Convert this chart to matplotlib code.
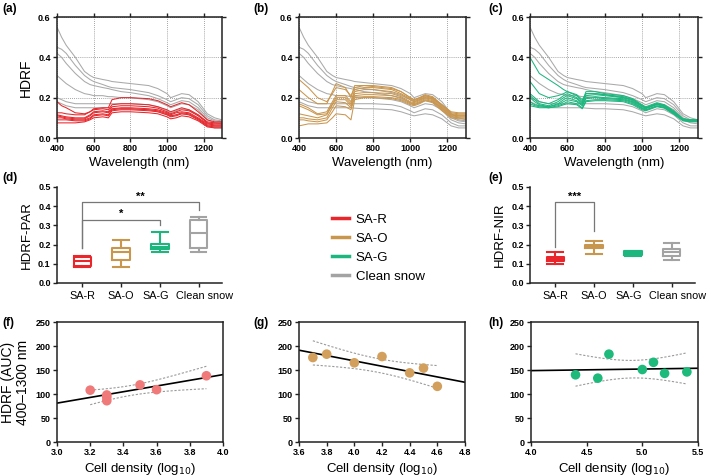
import numpy as np
import matplotlib
matplotlib.use("Agg")
import matplotlib.pyplot as plt
from matplotlib.lines import Line2D

plt.rcParams['font.family'] = ['Liberation Sans', 'DejaVu Sans']

# ---------------- data ----------------
wavelength = [400, 425, 450, 500, 550, 580, 600, 650, 680, 700, 750, 800, 900, 950,
              1000, 1020, 1050, 1080, 1120, 1170, 1220, 1260, 1300]

snow_curves = [
    [0.55, 0.50, 0.46, 0.40, 0.33, 0.31, 0.30, 0.29, 0.285, 0.28, 0.275, 0.27, 0.26, 0.245, 0.22, 0.20, 0.21, 0.22, 0.215, 0.18, 0.12, 0.10, 0.09],
    [0.45, 0.44, 0.42, 0.36, 0.31, 0.29, 0.28, 0.265, 0.255, 0.25, 0.245, 0.24, 0.225, 0.21, 0.19, 0.18, 0.19, 0.20, 0.195, 0.165, 0.11, 0.09, 0.085],
    [0.42, 0.40, 0.37, 0.32, 0.28, 0.265, 0.26, 0.25, 0.245, 0.24, 0.23, 0.225, 0.21, 0.195, 0.175, 0.165, 0.175, 0.185, 0.18, 0.15, 0.10, 0.085, 0.08],
    [0.31, 0.29, 0.27, 0.24, 0.22, 0.215, 0.21, 0.21, 0.205, 0.205, 0.20, 0.20, 0.19, 0.18, 0.16, 0.15, 0.16, 0.17, 0.165, 0.14, 0.09, 0.075, 0.07],
    [0.20, 0.19, 0.18, 0.17, 0.17, 0.17, 0.17, 0.17, 0.17, 0.17, 0.17, 0.17, 0.165, 0.155, 0.135, 0.125, 0.135, 0.145, 0.14, 0.115, 0.075, 0.06, 0.06],
    [0.18, 0.17, 0.16, 0.15, 0.15, 0.15, 0.15, 0.15, 0.15, 0.148, 0.145, 0.145, 0.14, 0.13, 0.115, 0.11, 0.115, 0.12, 0.115, 0.095, 0.06, 0.05, 0.05],
]

sar_curves = [
    [0.18, 0.16, 0.15, 0.125, 0.12, 0.13, 0.145, 0.15, 0.15, 0.19, 0.20, 0.20, 0.195, 0.185, 0.165, 0.155, 0.165, 0.175, 0.165, 0.13, 0.09, 0.08, 0.08],
    [0.125, 0.125, 0.12, 0.115, 0.115, 0.13, 0.14, 0.145, 0.14, 0.165, 0.17, 0.17, 0.165, 0.155, 0.14, 0.13, 0.14, 0.15, 0.14, 0.115, 0.08, 0.075, 0.075],
    [0.115, 0.11, 0.105, 0.10, 0.10, 0.115, 0.13, 0.135, 0.13, 0.155, 0.16, 0.16, 0.155, 0.148, 0.13, 0.12, 0.13, 0.14, 0.135, 0.11, 0.075, 0.07, 0.07],
    [0.11, 0.105, 0.10, 0.095, 0.095, 0.11, 0.125, 0.13, 0.125, 0.145, 0.15, 0.15, 0.145, 0.14, 0.125, 0.115, 0.125, 0.13, 0.125, 0.10, 0.07, 0.065, 0.065],
    [0.10, 0.10, 0.095, 0.09, 0.09, 0.10, 0.115, 0.12, 0.115, 0.14, 0.145, 0.145, 0.14, 0.135, 0.12, 0.11, 0.115, 0.125, 0.12, 0.095, 0.065, 0.06, 0.06],
    [0.09, 0.09, 0.09, 0.085, 0.085, 0.095, 0.11, 0.115, 0.11, 0.135, 0.14, 0.14, 0.135, 0.13, 0.115, 0.105, 0.11, 0.12, 0.115, 0.09, 0.06, 0.055, 0.055],
    [0.075, 0.075, 0.075, 0.075, 0.08, 0.09, 0.10, 0.105, 0.10, 0.125, 0.13, 0.13, 0.125, 0.12, 0.105, 0.095, 0.10, 0.11, 0.105, 0.085, 0.055, 0.05, 0.05],
]

sao_curves = [
    [0.29, 0.27, 0.25, 0.20, 0.18, 0.22, 0.25, 0.24, 0.21, 0.25, 0.26, 0.255, 0.245, 0.23, 0.20, 0.19, 0.20, 0.21, 0.20, 0.165, 0.13, 0.125, 0.125],
    [0.24, 0.22, 0.20, 0.17, 0.17, 0.23, 0.27, 0.25, 0.20, 0.26, 0.26, 0.26, 0.25, 0.23, 0.20, 0.19, 0.20, 0.215, 0.205, 0.165, 0.125, 0.12, 0.12],
    [0.17, 0.16, 0.15, 0.12, 0.13, 0.18, 0.21, 0.21, 0.18, 0.24, 0.25, 0.25, 0.24, 0.22, 0.195, 0.185, 0.195, 0.21, 0.20, 0.16, 0.12, 0.115, 0.115],
    [0.16, 0.15, 0.14, 0.115, 0.12, 0.17, 0.20, 0.20, 0.17, 0.23, 0.24, 0.24, 0.23, 0.215, 0.19, 0.18, 0.19, 0.205, 0.195, 0.155, 0.115, 0.11, 0.11],
    [0.12, 0.115, 0.11, 0.10, 0.115, 0.165, 0.19, 0.19, 0.16, 0.22, 0.225, 0.225, 0.22, 0.205, 0.18, 0.175, 0.185, 0.20, 0.19, 0.15, 0.115, 0.11, 0.11],
    [0.10, 0.10, 0.095, 0.09, 0.10, 0.15, 0.18, 0.175, 0.15, 0.21, 0.215, 0.215, 0.21, 0.20, 0.175, 0.17, 0.18, 0.195, 0.185, 0.145, 0.11, 0.105, 0.105],
    [0.09, 0.09, 0.085, 0.08, 0.09, 0.13, 0.16, 0.155, 0.14, 0.20, 0.205, 0.205, 0.20, 0.19, 0.17, 0.165, 0.175, 0.19, 0.18, 0.14, 0.105, 0.10, 0.10],
    [0.06, 0.065, 0.07, 0.07, 0.075, 0.10, 0.12, 0.115, 0.09, 0.19, 0.20, 0.20, 0.195, 0.185, 0.165, 0.16, 0.17, 0.185, 0.175, 0.135, 0.10, 0.095, 0.095],
]

sag_curves = [
    [0.40, 0.36, 0.32, 0.29, 0.26, 0.24, 0.23, 0.215, 0.19, 0.22, 0.22, 0.215, 0.20, 0.19, 0.16, 0.15, 0.16, 0.17, 0.16, 0.13, 0.095, 0.09, 0.09],
    [0.28, 0.25, 0.22, 0.20, 0.21, 0.22, 0.23, 0.21, 0.18, 0.23, 0.23, 0.22, 0.21, 0.195, 0.165, 0.155, 0.165, 0.175, 0.165, 0.135, 0.095, 0.09, 0.09],
    [0.22, 0.20, 0.18, 0.17, 0.19, 0.21, 0.22, 0.20, 0.175, 0.22, 0.22, 0.215, 0.205, 0.19, 0.16, 0.15, 0.16, 0.17, 0.16, 0.13, 0.09, 0.09, 0.09],
    [0.21, 0.19, 0.17, 0.16, 0.18, 0.20, 0.21, 0.195, 0.17, 0.21, 0.215, 0.21, 0.20, 0.185, 0.155, 0.148, 0.158, 0.168, 0.16, 0.128, 0.09, 0.088, 0.088],
    [0.20, 0.18, 0.165, 0.155, 0.17, 0.19, 0.20, 0.185, 0.165, 0.20, 0.205, 0.20, 0.195, 0.18, 0.15, 0.145, 0.155, 0.165, 0.155, 0.125, 0.09, 0.085, 0.085],
    [0.18, 0.165, 0.16, 0.155, 0.165, 0.18, 0.19, 0.18, 0.16, 0.195, 0.20, 0.195, 0.19, 0.175, 0.148, 0.14, 0.15, 0.16, 0.152, 0.122, 0.088, 0.085, 0.085],
    [0.17, 0.16, 0.155, 0.15, 0.16, 0.17, 0.18, 0.17, 0.15, 0.185, 0.19, 0.19, 0.185, 0.17, 0.145, 0.138, 0.148, 0.158, 0.15, 0.12, 0.087, 0.083, 0.083],
    [0.16, 0.155, 0.15, 0.15, 0.155, 0.165, 0.17, 0.165, 0.145, 0.18, 0.185, 0.185, 0.18, 0.165, 0.14, 0.135, 0.145, 0.155, 0.148, 0.118, 0.085, 0.08, 0.08],
]

groups = ['SA-R', 'SA-O', 'SA-G', 'Clean snow']
colors = ['#e8262b', '#c9964e', '#1db67f', '#a3a3a3']

# box-plot summaries: (whislo, q1, med, q3, whishi)
par_stats = [
    (0.085, 0.09, 0.115, 0.133, 0.14),
    (0.085, 0.12, 0.16, 0.18, 0.222),
    (0.16, 0.175, 0.19, 0.205, 0.265),
    (0.16, 0.18, 0.26, 0.33, 0.342),
]
nir_stats = [
    (0.10, 0.115, 0.125, 0.135, 0.162),
    (0.152, 0.18, 0.19, 0.20, 0.218),
    (0.142, 0.148, 0.155, 0.165, 0.168),
    (0.12, 0.14, 0.16, 0.178, 0.21),
]

# scatter data (cell density log10, AUC)
f_x = [3.2, 3.3, 3.3, 3.3, 3.5, 3.6, 3.9]
f_y = [108, 98, 93, 86, 119, 109, 138]
g_x = [3.7, 3.8, 4.0, 4.2, 4.4, 4.5, 4.6]
g_y = [176, 183, 165, 178, 144, 154, 116]
h_x = [4.4, 4.6, 4.7, 5.0, 5.1, 5.2, 5.4]
h_y = [140, 133, 183, 151, 166, 143, 146]

# ---------------- figure ----------------
W, H = 709, 476
fig = plt.figure(figsize=(W / 100, H / 100), dpi=100)


def ax_px(l, t, r, b):
    return fig.add_axes([l / W, 1 - b / H, (r - l) / W, (b - t) / H])


TICK_FS = 6.5
LAB_FS = 9.5
SPINE_C = '#222222'


def style_ticks(ax):
    for lab in ax.get_xticklabels() + ax.get_yticklabels():
        lab.set_fontweight('bold')
        lab.set_fontsize(TICK_FS)
    ax.tick_params(length=3, width=1, color=SPINE_C, pad=1.5)
    for s in ax.spines.values():
        s.set_linewidth(1.1)
        s.set_color(SPINE_C)


# spectra panels
spec_lefts = [(57, 222), (299, 466), (530, 698)]
spec_sets = [sar_curves, sao_curves, sag_curves]
for i, ((l, r), curves) in enumerate(zip(spec_lefts, spec_sets)):
    ax = ax_px(l, 17, r, 138)
    for c in snow_curves:
        ax.plot(wavelength, c, color='#a9a9a9', lw=0.75)
    for c in curves:
        ax.plot(wavelength, c, color=colors[i], lw=0.75)
    ax.set_xlim(400, 1300)
    ax.set_ylim(0, 0.6)
    ax.set_xticks([400, 600, 800, 1000, 1200])
    ax.set_yticks([0.0, 0.2, 0.4, 0.6])
    ax.set_yticklabels(['0.0', '0.2', '0.4', '0.6'])
    ax.grid(True, ls=(0, (1, 1.5)), color='#888888', lw=0.6)
    ax.tick_params(top=True, right=True)
    ax.set_xlabel('Wavelength (nm)', fontsize=LAB_FS, labelpad=3)
    if i == 0:
        ax.set_ylabel('HDRF', fontsize=LAB_FS + 0.5, labelpad=4)
    style_ticks(ax)


# box plot panels
def box_panel(l, r, stats, ylabel, brackets):
    ax = ax_px(l, 187, r, 283)
    for i, (lo, q1, med, q3, hi) in enumerate(stats):
        st = dict(med=med, q1=q1, q3=q3, whislo=lo, whishi=hi, fliers=[])
        c = colors[i]
        ax.bxp([st], positions=[i], widths=0.45, showfliers=False,
               boxprops=dict(color=c, lw=1.5),
               medianprops=dict(color=c, lw=1.5),
               whiskerprops=dict(color=c, lw=1.5),
               capprops=dict(color=c, lw=1.5),
               capwidths=0.4)
    for (x0, x1, y, y0, y1, txt) in brackets:
        ax.plot([x0, x0, x1, x1], [y0, y, y, y1], color='#777777', lw=0.9)
        ax.text((x0 + x1) / 2, y + 0.005, txt, ha='center', va='bottom',
                fontsize=8, fontweight='bold')
    ax.set_xlim(-0.65, 3.6)
    ax.set_ylim(0, 0.5)
    ax.set_yticks([0, 0.1, 0.2, 0.3, 0.4, 0.5])
    ax.set_yticklabels(['0.0', '0.1', '0.2', '0.3', '0.4', '0.5'])
    ax.set_xticks(range(4))
    ax.set_xticklabels([''] * 4)
    ax.spines['top'].set_visible(False)
    ax.spines['right'].set_visible(False)
    ax.set_ylabel(ylabel, fontsize=LAB_FS, labelpad=4)
    style_ticks(ax)
    offsets = [0, 0, -0.1, 0.16]
    trans = ax.get_xaxis_transform()
    for i, (g, dx) in enumerate(zip(groups, offsets)):
        ax.text(i + dx, -0.08, g, transform=trans, ha='center', va='top',
                fontsize=7.8)
    return ax


box_panel(57, 222, par_stats, 'HDRF-PAR',
          [(0, 3, 0.42, 0.18, 0.38, '**'), (0, 2, 0.33, 0.18, 0.30, '*')])
box_panel(530, 695, nir_stats, 'HDRF-NIR',
          [(0, 1, 0.42, 0.19, 0.27, '***')])


# scatter panels
def scatter_panel(l, r, xs, ys, color, xlim, xticks, ylabel=None):
    ax = ax_px(l, 322, r, 442)
    xs = np.asarray(xs, float)
    ys = np.asarray(ys, float)
    n = len(xs)
    b, a = np.polyfit(xs, ys, 1)
    resid = ys - (a + b * xs)
    s = np.sqrt(np.sum(resid ** 2) / (n - 2))
    sxx = np.sum((xs - xs.mean()) ** 2)
    tval = 2.571
    xx = np.linspace(xs.min(), xs.max(), 50)
    se = s * np.sqrt(1 / n + (xx - xs.mean()) ** 2 / sxx)
    yy = a + b * xx
    ax.plot(xx, yy + tval * se, ls=(0, (2, 1.5)), color='#9a9a9a', lw=0.8)
    ax.plot(xx, yy - tval * se, ls=(0, (2, 1.5)), color='#9a9a9a', lw=0.8)
    xl = np.array(xlim)
    ax.plot(xl, a + b * xl, color='black', lw=1.2)
    ax.scatter(xs, ys, s=48, color=color, edgecolors='none', zorder=3)
    ax.set_xlim(*xlim)
    ax.set_ylim(0, 250)
    ax.set_xticks(xticks)
    ax.set_xticklabels([f'{t:.1f}' for t in xticks])
    ax.set_yticks([0, 50, 100, 150, 200, 250])
    ax.set_xlabel('Cell density (log$_{10}$)', fontsize=LAB_FS, labelpad=3)
    if ylabel:
        ax.set_ylabel(ylabel, fontsize=LAB_FS + 0.5, labelpad=4, linespacing=1.1)
    style_ticks(ax)
    return ax


scatter_panel(57, 223, f_x, f_y, '#f07a7a', (3.0, 4.0),
              [3.0, 3.2, 3.4, 3.6, 3.8, 4.0], 'HDRF (AUC)\n400–1300 nm')
scatter_panel(299, 465, g_x, g_y, '#d29f5c', (3.6, 4.8),
              [3.6, 3.8, 4.0, 4.2, 4.4, 4.6, 4.8])
scatter_panel(531, 698, h_x, h_y, '#1dba7c', (4.0, 5.5),
              [4.0, 4.5, 5.0, 5.5])

# panel labels
for txt, x, y in [('(a)', 2, 9), ('(b)', 253, 9), ('(c)', 488, 9),
                  ('(d)', 2, 178), ('(e)', 488, 178),
                  ('(f)', 2, 323), ('(g)', 253, 323), ('(h)', 488, 323)]:
    fig.text(x / W, 1 - y / H, txt, fontsize=8.5, fontweight='bold',
             ha='left', va='center')

# legend
handles = [Line2D([], [], color=c, lw=2.5) for c in colors]
fig.legend(handles, groups, loc='upper left',
           bbox_to_anchor=(320 / W, 1 - 202 / H), frameon=False,
           fontsize=9.5, handlelength=1.3, labelspacing=0.5, handletextpad=0.5)

fig.savefig('out.png', dpi=100)
